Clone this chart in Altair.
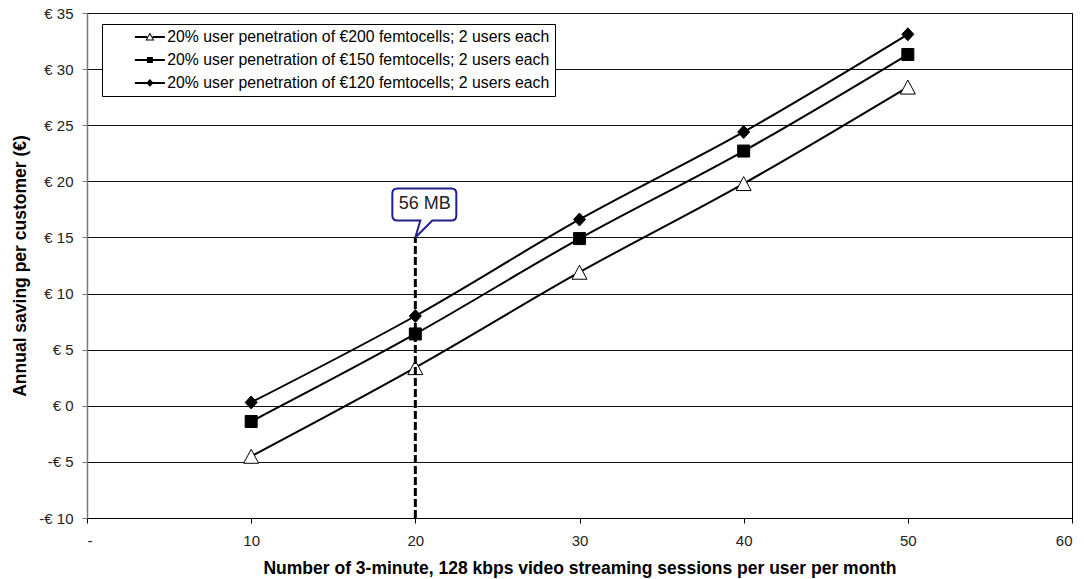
import altair as alt
import pandas as pd

# Sessions per user per month (x) and annual saving per customer in euros (y)
sessions = [10, 20, 30, 40, 50]
series_names = [
    "20% user penetration of €200 femtocells; 2 users each",
    "20% user penetration of €150 femtocells; 2 users each",
    "20% user penetration of €120 femtocells; 2 users each",
]
saving_200 = [-4.5, 3.4, 11.9, 19.8, 28.4]
saving_150 = [-1.4, 6.4, 14.9, 22.7, 31.3]
saving_120 = [0.3, 8.0, 16.6, 24.4, 33.1]

# Reference marker: 20 sessions a month (56 MB)
marker_x = [20]
marker_low = [-10]
marker_high = [15]
marker_label = ["56 MB"]

x_ticks = [0, 10, 20, 30, 40, 50, 60]
y_ticks = [-10, -5, 0, 5, 10, 15, 20, 25, 30, 35]

FONT = "Liberation Sans"

rows = []
for name, vals in zip(series_names, [saving_200, saving_150, saving_120]):
    for s, v in zip(sessions, vals):
        rows.append({"sessions": s, "saving": v, "series": name})
df = pd.DataFrame(rows)

marker_df = pd.DataFrame(
    {"sessions": marker_x, "low": marker_low, "high": marker_high, "label": marker_label}
)

# Marker outlines drawn in pixel units (size=4 -> 1 unit = 1 px)
tri_path = "M0,-7L7.5,7L-7.5,7Z"
sq_path = "M-6,-6H6V6H-6Z"
dia_path = "M0,-6.5L6,0L0,6.5L-6,0Z"

# Legend glyphs: a short line through a smaller marker
seg = "M-15,-1H-2.8V1H-15ZM2.8,-1H15V1H2.8Z"
leg_tri = seg + "M0,-4.5L4.5,3.5L-4.5,3.5ZM0,-2.4L-2.9,2.5L2.9,2.5Z"
leg_sq = seg + "M-3,-3H3V3H-3Z"
leg_dia = seg + "M0,-3.8L3.6,0L0,3.8L-3.6,0Z"

# Callout balloon, tip at the anchor point
balloon = (
    "M-18,-49H36Q41,-49 41,-44V-22Q41,-17 36,-17H17L0,0L5,-17H-18"
    "Q-23,-17 -23,-22V-44Q-23,-49 -18,-49Z"
)

x_enc = alt.X(
    "sessions:Q",
    scale=alt.Scale(domain=[0, 60], nice=False, zero=False),
    axis=alt.Axis(
        values=x_ticks,
        labelExpr="datum.value == 0 ? '-' : datum.label",
        title="Number of 3-minute, 128 kbps video streaming sessions per user per month",
        grid=False,
        tickSize=5,
        tickColor="#000",
        domainColor="#000",
        labelPadding=10,
        titlePadding=11,
    ),
)
y_enc = alt.Y(
    "saving:Q",
    scale=alt.Scale(domain=[-10, 35], nice=False, zero=False),
    axis=alt.Axis(
        values=y_ticks,
        labelExpr="datum.value < 0 ? '-€ ' + abs(datum.value) : '€ ' + datum.value",
        title="Annual saving per customer (€)",
        grid=True,
        gridColor="#111",
        gridWidth=1,
        tickSize=5,
        tickColor="#777",
        domainColor="#777",
        domainWidth=1.5,
        labelPadding=9,
        titlePadding=9,
    ),
)

lines = alt.Chart(df).mark_line(
    color="black", strokeWidth=2, interpolate="monotone"
).encode(x=x_enc, y=y_enc, detail="series:N")

points = alt.Chart(df).mark_point(
    filled=True, size=4, stroke="black", strokeWidth=1, opacity=1
).encode(
    x="sessions:Q",
    y="saving:Q",
    shape=alt.Shape(
        "series:N",
        scale=alt.Scale(domain=series_names, range=[tri_path, sq_path, dia_path]),
        legend=None,
    ),
    fill=alt.Fill(
        "series:N",
        scale=alt.Scale(domain=series_names, range=["white", "black", "black"]),
        legend=None,
    ),
)

# Legend-only layer (no rows pass the filter; the legend comes from the scale domain)
legend_layer = alt.Chart(df).transform_filter("datum.sessions < 0").mark_point(
    filled=True, color="black", size=4, opacity=1
).encode(
    x="sessions:Q",
    y="saving:Q",
    shape=alt.Shape(
        "series:N",
        scale=alt.Scale(domain=series_names, range=[leg_tri, leg_sq, leg_dia]),
        legend=alt.Legend(
            orient="none",
            legendX=15,
            legendY=11,
            title=None,
            fillColor="white",
            strokeColor="black",
            padding=5,
            rowPadding=6,
            symbolSize=4,
            symbolOffset=35,
            labelOffset=9.5,
            symbolStrokeWidth=0,
            symbolFillColor="black",
            labelFont=FONT,
            labelFontSize=15.8,
            labelColor="#000",
            labelLimit=1000,
        ),
    ),
)

rule = alt.Chart(marker_df).mark_rule(
    color="black", strokeWidth=3, strokeDash=[8, 3]
).encode(x="sessions:Q", y="low:Q", y2="high:Q")

callout = alt.Chart(marker_df).mark_point(
    shape=balloon, size=4, filled=True, fill="white", stroke="#1f1f8f",
    strokeWidth=2, opacity=1,
).encode(x="sessions:Q", y="high:Q")

callout_text = alt.Chart(marker_df).mark_text(
    dx=9.5, dy=-33, font=FONT, fontSize=18, color="#222"
).encode(x="sessions:Q", y="high:Q", text="label:N")

chart = (
    alt.layer(lines, points, legend_layer, rule, callout, callout_text)
    .resolve_scale(shape="independent", fill="independent")
    .properties(
        width=985,
        height=505,
        autosize=alt.AutoSizeParams(type="none"),
        padding={"left": 87, "top": 13, "right": 12, "bottom": 61},
        background="white",
    )
    .configure_view(stroke="black", strokeWidth=1)
    .configure_axis(
        labelFont=FONT,
        labelFontSize=15,
        labelColor="#222",
        titleFont=FONT,
        titleFontSize=17.5,
        titleFontWeight="bold",
        titleColor="#000",
    )
)

chart.save("out.html", embed_options={"renderer": "svg", "actions": False})
